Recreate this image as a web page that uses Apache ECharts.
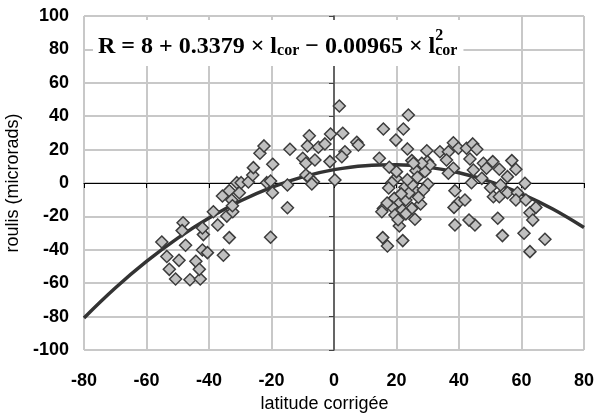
<!DOCTYPE html>
<html>
<head>
<meta charset="utf-8">
<script src="https://cdn.jsdelivr.net/npm/echarts@6/dist/echarts.min.js"></script>
<style>
html,body{margin:0;padding:0;background:#fff;}
#chart{width:598px;height:414px;}
</style>
</head>
<body>
<div id="chart"></div>
<script>
// Tick labels
const xTicks = [-80, -60, -40, -20, 0, 20, 40, 60, 80];
const yTicks = [-100, -80, -60, -40, -20, 0, 20, 40, 60, 80, 100];

// Measured points: corrected latitude (x) and roll (y, microrads)
const latitude = [
  -55.1,-48.3,-48.6,-47.5,-53.5,-49.6,-52.7,-50.7,-46.1,-42.8,-44.2,-43.1,-42.1,-40.5,-41.8,-42.1,
  -38.6,-37.2,-35.4,-34.3,-33.5,-32.4,-20.3,-14.9,-35.7,-33.5,-32.7,-32.5,-31.1,-30.3,-29.7,-27.4,
  -26.0,-25.8,-23.7,-22.4,-21.5,-20.3,-19.6,-19.7,-14.9,-14.1,-10.0,-9.0,-8.5,-7.9,-6.1,-5.0,
  -9.0,-7.7,-6.6,-7.1,-2.9,-1.1,-1.3,0.3,
  1.7,2.8,7.3,7.8,3.5,2.5,
  14.5,17.7,15.8,22.2,23.8,19.8,23.5,29.7,24.9,29.9,30.7,26.2,29.1,26.7,30.0,19.8,
  18.5,22.7,26.2,19.3,21.1,23.0,24.9,27.7,15.8,15.3,18.5,19.5,21.9,25.9,20.9,15.6,
  17.1,22.0,28.1,25.4,20.0,24.0,28.6,21.5,17.5,25.0,23.5,27.0,20.5,23.0,17.0,
  33.9,36.6,38.2,39.8,36.0,42.4,44.4,45.7,43.5,38.2,36.6,44.6,47.8,48.8,50.8,52.9,
  47.3,44.0,50.1,53.3,51.0,52.9,55.5,56.9,58.2,55.5,58.7,58.2,61.4,61.1,62.7,64.6,
  63.6,67.5,62.7,60.8,53.9,52.4,45.1,43.2,38.7,39.8,41.9,38.4,38.7
];
const roulis = [
  -35.3,-23.8,-28.5,-37.3,-44.0,-46.3,-51.7,-57.5,-57.9,-57.5,-46.9,-51.7,-40.1,-41.7,-30.9,-26.9,
  -17.2,-25.1,-43.3,-19.8,-32.7,-17.2,-32.5,-14.8,-7.8,-4.6,-10.2,-13.6,0.2,-5.8,0.2,0.6,
  4.8,9.2,17.8,22.2,0.2,1.2,11.2,-5.8,-1.2,20.2,14.8,11.8,22.2,28.3,13.8,21.4,
  4.8,2.8,0.8,-0.6,23.4,29.3,12.8,1.8,
  46.1,29.8,24.4,22.8,18.7,15.7,
  14.8,9.4,32.3,32.3,40.7,25.7,20.4,19.3,13.4,12.8,10.8,7.4,6.8,3.4,-0.8,2.8,
  0.2,-2.6,-5.2,-9.2,-11.8,-10.2,-15.2,-12.6,-15.2,-17.2,-14.2,-19.2,-16.2,-21.7,-25.7,-32.7,
  -37.7,-34.5,11.8,11.8,6.8,-6.0,-4.2,-6.5,-3.0,-1.0,2.0,-8.5,-22.0,-18.5,-12.0,
  18.7,18.7,24.1,20.8,13.8,20.8,23.4,20.2,14.4,8.8,5.8,7.8,11.8,8.8,12.8,8.2,
  2.8,0.2,-2.8,-1.2,-8.2,-8.2,3.8,13.4,8.2,-5.8,-5.8,-10.2,-10.2,-0.2,-17.8,-14.6,
  -22.2,-33.7,-41.1,-30.1,-31.5,-21.1,-25.1,-22.2,-25.1,-11.8,-10.2,-14.6,-4.6
];

// Fitted curve
const curveX = [-80, -70, -60, -50, -40, -30, -20, -10, 0, 10, 20, 30, 40, 50, 60, 70, 80];
const curveY = [-80.8, -62.9, -47.0, -33.0, -21.0, -10.8, -2.6, 3.7, 8.0, 10.4, 10.9, 9.5, 6.1, 0.8, -6.5, -15.6, -26.7];

const equationText = '{m|R = 8 + 0.3379 × l}{s|cor}{m| − 0.00965 × l}{p|2}{s|cor}';

const pts = latitude.map((x, i) => [x, roulis[i]]);
const curve = curveX.map((x, i) => [x, curveY[i]]);

const chart = echarts.init(document.getElementById('chart'), null, {renderer: 'canvas'});
const sans = 'Liberation Sans, Arial, sans-serif';
const serif = 'Liberation Serif, Times New Roman, serif';
const gridColor = '#c8c8c8';

chart.setOption({
  animation: false,
  backgroundColor: '#fff',
  grid: {left: 84, right: 14, top: 16, bottom: 64, containLabel: false, outerBoundsMode: 'none'},
  xAxis: [{
    type: 'value', min: xTicks[0], max: xTicks[xTicks.length - 1], interval: 20,
    position: 'bottom',
    axisLine: {show: false, onZero: false},
    axisTick: {show: false},
    axisLabel: {color: '#000', fontWeight: 'bold', fontSize: 18, fontFamily: sans, margin: 22},
    splitLine: {show: true, lineStyle: {color: gridColor, width: 2}},
    name: 'latitude corrigée', nameLocation: 'middle', nameGap: 40,
    nameTextStyle: {color: '#000', fontSize: 18, fontFamily: sans, padding: [0, 19, 0, 0]}
  }, {
    type: 'value', min: xTicks[0], max: xTicks[xTicks.length - 1], interval: 20,
    position: 'bottom',
    axisLine: {show: true, onZero: true, onZeroAxisIndex: 0, lineStyle: {color: '#000', width: 1}},
    axisTick: {show: true, inside: false, length: 5, lineStyle: {color: '#000', width: 1}},
    axisLabel: {show: false},
    splitLine: {show: false}
  }],
  yAxis: [{
    type: 'value', min: yTicks[0], max: yTicks[yTicks.length - 1], interval: 20,
    position: 'left',
    axisLine: {show: false, onZero: false},
    axisTick: {show: false},
    axisLabel: {color: '#000', fontWeight: 'bold', fontSize: 18, fontFamily: sans, margin: 15},
    splitLine: {show: true, lineStyle: {color: gridColor, width: 2}},
    name: 'roulis (microrads)', nameLocation: 'middle', nameGap: 58, nameRotate: 90,
    nameTextStyle: {color: '#000', fontSize: 18, fontFamily: sans}
  }, {
    type: 'value', min: yTicks[0], max: yTicks[yTicks.length - 1], interval: 20,
    position: 'left',
    axisLine: {show: true, onZero: true, onZeroAxisIndex: 0, lineStyle: {color: '#444', width: 1.5}},
    axisTick: {show: true, inside: false, length: 5, lineStyle: {color: '#444', width: 1}},
    axisLabel: {show: false},
    splitLine: {show: false}
  }],
  series: [{
    type: 'line', xAxisIndex: 0, yAxisIndex: 0,
    data: curve, smooth: 0.4, showSymbol: false, symbol: 'none',
    lineStyle: {color: '#333', width: 3.5}, z: 3
  }, {
    type: 'scatter', xAxisIndex: 0, yAxisIndex: 0,
    data: pts, symbol: 'diamond', symbolSize: 12,
    itemStyle: {color: '#c0c0c0', borderColor: '#3c3c3c', borderWidth: 1.5, opacity: 1}, z: 4
  }],
  graphic: [{
    type: 'text', left: 93, top: 20, z: 100,
    style: {
      text: equationText,
      backgroundColor: '#fff',
      padding: [5, 6, 7, 5],
      rich: {
        m: {fontFamily: serif, fontWeight: 'bold', fontSize: 24, fill: '#000', padding: [10, 0, 0, 0], verticalAlign: 'bottom'},
        s: {fontFamily: serif, fontWeight: 'bold', fontSize: 16, fill: '#000', verticalAlign: 'bottom'},
        p: {fontFamily: serif, fontWeight: 'bold', fontSize: 16, fill: '#000', verticalAlign: 'top', padding: [3, 0, 0, 0], width: 0}
      }
    }
  }]
});
</script>
</body>
</html>
